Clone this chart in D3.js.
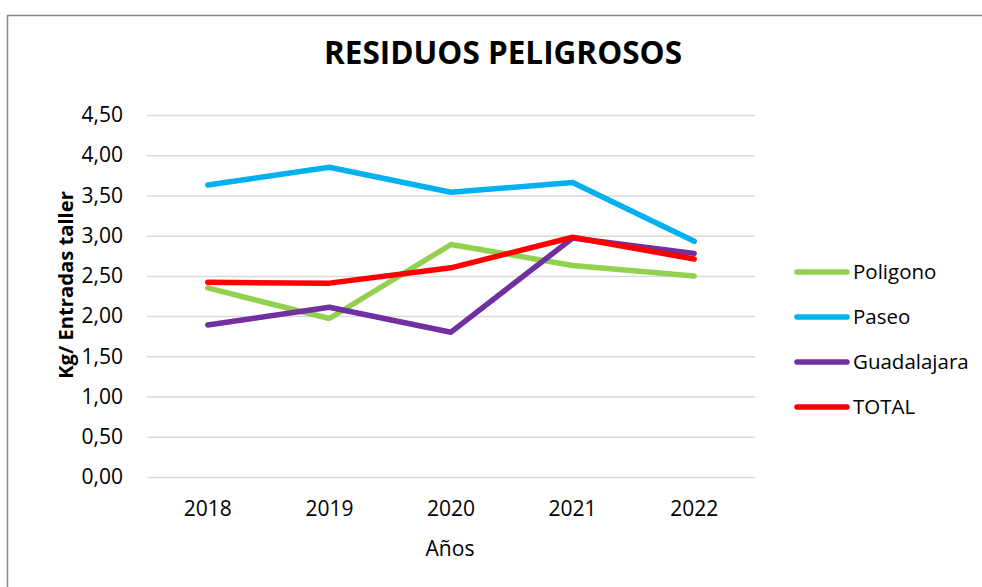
<!DOCTYPE html>
<html>
<head>
<meta charset="utf-8">
<script src="https://cdn.jsdelivr.net/npm/d3@7"></script>
<style>
  body { margin: 0; background: #fff; }
  text { font-family: "Open Sans", sans-serif; fill: #000; }
</style>
</head>
<body>
<div id="chart"></div>
<script>
// data
const years = ["2018", "2019", "2020", "2021", "2022"];
const poligono = [2.35, 1.97, 2.89, 2.63, 2.50];
const paseo = [3.63, 3.85, 3.54, 3.66, 2.93];
const guadalajara = [1.89, 2.11, 1.80, 2.97, 2.78];
const total = [2.42, 2.41, 2.60, 2.98, 2.71];
const yTicks = [0, 0.5, 1, 1.5, 2, 2.5, 3, 3.5, 4, 4.5];

const series = [
    { name: "Poligono", values: poligono, color: "#92D050" },
    { name: "Paseo", values: paseo, color: "#00B0F0" },
    { name: "Guadalajara", values: guadalajara, color: "#7030A0" },
    { name: "TOTAL", values: total, color: "#FF0000" }
];

const width = 982, height = 587;
const margin = { top: 115, right: 227, bottom: 110, left: 147 };
const innerW = width - margin.left - margin.right;
const innerH = 477 - margin.top;

const svg = d3.select("#chart").append("svg")
    .attr("width", width)
    .attr("height", height);

// chart border (runs off the right and bottom of the picture)
svg.append("rect")
    .attr("x", 7.5).attr("y", 15.5)
    .attr("width", 1000).attr("height", 620)
    .attr("fill", "none")
    .attr("stroke", "#898989")
    .attr("stroke-width", 1.5);

const g = svg.append("g")
    .attr("transform", "translate(" + margin.left + "," + margin.top + ")");

const x = d3.scaleBand().domain(years).range([0, innerW]);
const y = d3.scaleLinear().domain([0, 4.5]).range([innerH, 0]);

const fmt = d => d3.format(".2f")(d).replace(".", ",");

// gridlines
g.append("g")
    .attr("class", "grid")
    .call(d3.axisLeft(y).tickValues(yTicks).tickSize(-innerW).tickFormat(""))
    .call(a => a.select(".domain").remove())
    .call(a => a.selectAll("line").attr("stroke", "#D9D9D9").attr("stroke-width", 1.5));

// y axis labels
g.append("g")
    .call(d3.axisLeft(y).tickValues(yTicks).tickSize(0).tickPadding(24).tickFormat(fmt))
    .call(a => a.select(".domain").remove())
    .call(a => a.selectAll("text")
        .style("font-family", "Open Sans")
        .style("font-size", "21px")
        .attr("fill", "#000"));

// x axis labels
g.append("g")
    .attr("transform", "translate(0," + innerH + ")")
    .call(d3.axisBottom(x).tickSize(0).tickPadding(24))
    .call(a => a.select(".domain").remove())
    .call(a => a.selectAll("text")
        .style("font-family", "Open Sans")
        .style("font-size", "21px")
        .attr("fill", "#000"));

// lines
const line = d3.line()
    .x((d, i) => x(years[i]) + x.bandwidth() / 2)
    .y(d => y(d));

g.selectAll(".series")
    .data(series)
    .enter().append("path")
    .attr("class", "series")
    .attr("d", d => line(d.values))
    .attr("fill", "none")
    .attr("stroke", d => d.color)
    .attr("stroke-width", 5.5)
    .attr("stroke-linecap", "round")
    .attr("stroke-linejoin", "round");

// title
svg.append("text")
    .attr("x", 503).attr("y", 64)
    .attr("text-anchor", "middle")
    .style("font-size", "31.5px")
    .style("font-weight", "bold")
    .text("RESIDUOS PELIGROSOS");

// axis titles
svg.append("text")
    .attr("transform", "translate(73,285) rotate(-90)")
    .attr("text-anchor", "middle")
    .style("font-size", "20.2px")
    .style("font-weight", "bold")
    .text("Kg/ Entradas taller");

svg.append("text")
    .attr("x", 450).attr("y", 556)
    .attr("text-anchor", "middle")
    .style("font-size", "21px")
    .text("Años");

// legend
const legend = svg.selectAll(".legend")
    .data(series)
    .enter().append("g")
    .attr("class", "legend")
    .attr("transform", (d, i) => "translate(797," + (272 + i * 45) + ")");

legend.append("line")
    .attr("x1", 0).attr("x2", 50)
    .attr("stroke", d => d.color)
    .attr("stroke-width", 5.5)
    .attr("stroke-linecap", "round");

legend.append("text")
    .attr("x", 56).attr("dy", "0.35em")
    .style("font-size", "20.5px")
    .text(d => d.name);
</script>
</body>
</html>
